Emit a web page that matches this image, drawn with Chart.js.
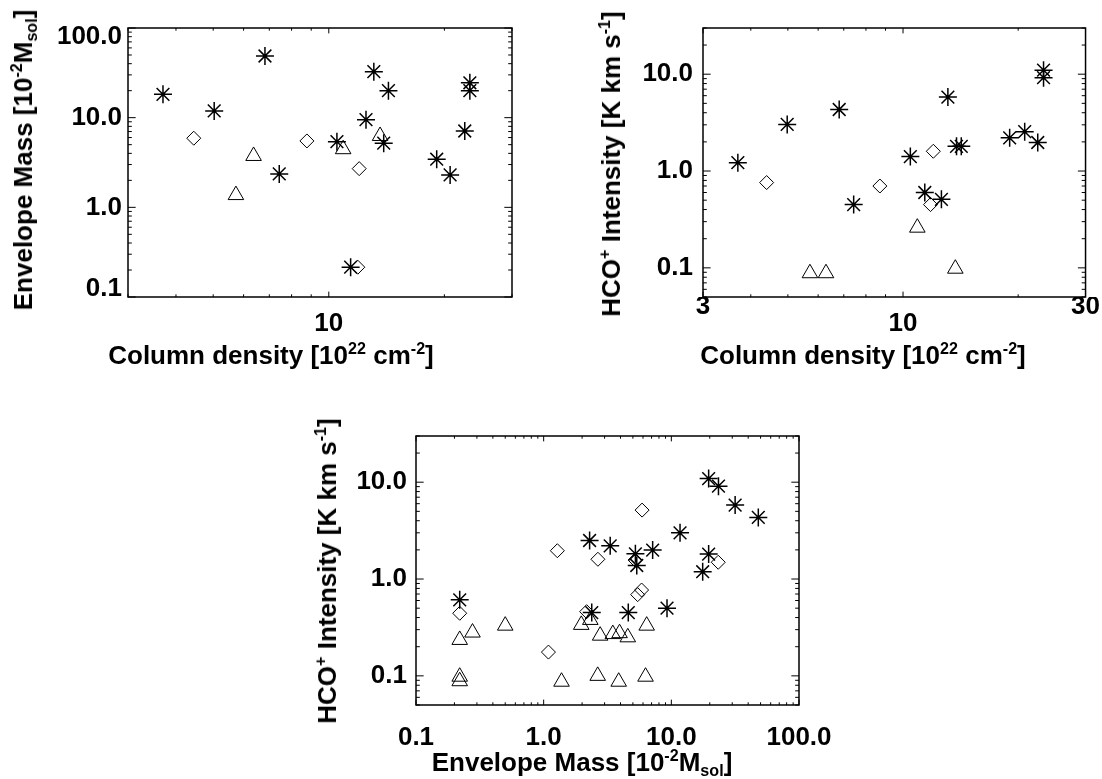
<!DOCTYPE html>
<html>
<head>
<meta charset="utf-8">
<script src="https://cdn.jsdelivr.net/npm/chart.js@4.4.0/dist/chart.umd.min.js"></script>
<style>
  body { margin: 0; background: #fff; }
  #wrap { position: relative; width: 1102px; height: 779px; overflow: hidden; }
  canvas { position: absolute; left: 0; top: 0; }
  .t { position: absolute; font: bold 26px "Liberation Sans", Arial, Helvetica, sans-serif; line-height: 26px;
       white-space: nowrap; color: #000; transform: translate(-50%, -50%); }
  .r { transform: translate(-50%, -50%) rotate(-90deg); }
  sup, sub { font-size: 0.62em; line-height: 0; position: relative; vertical-align: baseline; }
  sup { top: -0.62em; }
  sub { top: 0.32em; }
</style>
</head>
<body>
<div id="wrap">
  <canvas id="c1" width="1102" height="779"></canvas>
  <canvas id="c2" width="1102" height="779"></canvas>
  <canvas id="c3" width="1102" height="779"></canvas>

  <div class="t" style="left:271px;top:355px">Column density [10<sup>22</sup> cm<sup>-2</sup>]</div>
  <div class="t r" style="left:23px;top:160px">Envelope Mass [10<sup>-2</sup>M<sub>sol</sub>]</div>

  <div class="t" style="left:863px;top:355px">Column density [10<sup>22</sup> cm<sup>-2</sup>]</div>
  <div class="t r" style="left:611px;top:164px">HCO<sup>+</sup> Intensity [K km s<sup>-1</sup>]</div>

  <div class="t" style="left:582px;top:762px">Envelope Mass [10<sup>-2</sup>M<sub>sol</sub>]</div>
  <div class="t r" style="left:327px;top:571px">HCO<sup>+</sup> Intensity [K km s<sup>-1</sup>]</div>
</div>

<script>
// panel 1: column density vs envelope mass
const p1StarX = [3.70, 5.03, 6.82, 7.43, 10.5, 11.4, 12.5, 13.1, 13.9, 14.3, 19.1, 20.7, 22.6, 23.3, 23.3];
const p1StarY = [18.2, 11.9, 48.7, 2.36, 5.4, 0.215, 9.5, 32.6, 5.2, 20.0, 3.44, 2.3, 7.1, 24.5, 20.0];
const p1DiaX = [4.45, 8.77, 12.0, 11.9];
const p1DiaY = [5.9, 5.5, 2.7, 0.215];
const p1TriX = [5.73, 6.37, 10.9, 13.6];
const p1TriY = [1.37, 3.74, 4.45, 6.25];

// panel 2: column density vs HCO+ intensity
const p2StarX = [3.70, 4.98, 6.81, 7.43, 10.45, 11.4, 12.6, 13.1, 13.8, 14.2, 19.0, 20.8, 22.5, 23.3, 23.3];
const p2StarY = [1.22, 3.03, 4.32, 0.45, 1.41, 0.60, 0.51, 5.8, 1.8, 1.8, 2.2, 2.55, 1.97, 11.0, 9.2];
const p2DiaX = [4.40, 8.70, 11.8, 12.0];
const p2DiaY = [0.76, 0.70, 0.45, 1.6];
const p2TriX = [5.71, 6.29, 10.9, 13.7];
const p2TriY = [0.088, 0.088, 0.26, 0.098];

// panel 3: envelope mass vs HCO+ intensity
const p3StarX = [0.22, 2.29, 2.38, 3.32, 4.60, 5.23, 5.36, 7.14, 9.25, 11.7, 17.6, 19.6, 19.6, 23.4, 31.6, 48.0];
const p3StarY = [0.61, 2.50, 0.45, 2.2, 0.45, 1.82, 1.38, 1.99, 0.50, 3.0, 1.19, 1.81, 10.9, 9.1, 5.8, 4.33];
const p3DiaX = [0.22, 1.09, 1.28, 2.17, 2.66, 5.2, 5.45, 5.85, 5.9, 23.3];
const p3DiaY = [0.443, 0.176, 1.96, 0.46, 1.6, 1.57, 0.69, 0.77, 5.15, 1.49];
const p3TriX = [0.22, 0.22, 0.22, 0.277, 0.50, 1.38, 1.97, 2.32, 2.65, 2.77, 3.48, 3.87, 3.93, 4.56, 6.28, 6.41];
const p3TriY = [0.235, 0.098, 0.088, 0.28, 0.33, 0.087, 0.336, 0.378, 0.1, 0.26, 0.27, 0.087, 0.276, 0.25, 0.098, 0.33];

// tick labels (arrays push end labels inward like the original)
const p1XTickVals = [10];
const p1XTickLabels = ['10'];
const p1YTickVals = [0.1, 1, 10, 100];
const p1YTickLabels = [['0.1', ''], '1.0', '10.0', ['', '100.0']];
const p2XTickVals = [3, 10, 30];
const p2XTickLabels = ['3', ['', '10'], '30'];
const p2YTickVals = [0.1, 1, 10];
const p2YTickLabels = ['0.1', '1.0', '10.0'];
const p3XTickVals = [0.1, 1, 10, 100];
const p3XTickLabels = ['0.1', '1.0', '10.0', '100.0'];
const p3YTickVals = [0.1, 1, 10];
const p3YTickLabels = ['0.1', '1.0', '10.0'];

const FONT = "'Liberation Sans', Arial, Helvetica, sans-serif";
const W = 1102, H = 779;
const Y_AXIS_W = 110, X_AXIS_H = 70;

function minorTicks(min, max) {
    const out = [];
    for (let e = Math.floor(Math.log10(min)); e <= Math.ceil(Math.log10(max)); e++) {
        for (let m = 1; m <= 9; m++) {
            const v = m * Math.pow(10, e);
            if (v >= min * 0.9999 && v <= max * 1.0001) out.push(v);
        }
    }
    return out;
}

function isIn(v, list) {
    return list.some(t => Math.abs(t - v) / t < 1e-6);
}

// IDL style frame with inward ticks on all four sides
const boxTicks = {
    id: 'boxTicks',
    afterDraw(chart, args, opts) {
        const { ctx, chartArea: a, scales } = chart;
        const x = scales.x, y = scales.y;
        const h = a.bottom - a.top, w = a.right - a.left;
        ctx.save();
        ctx.strokeStyle = '#000';
        ctx.lineWidth = 1;
        ctx.beginPath();
        minorTicks(x.min, x.max).forEach(v => {
            const px = x.getPixelForValue(v);
            const len = (isIn(v, opts.xMajor) ? 0.02 : 0.01) * h;
            ctx.moveTo(px, a.bottom); ctx.lineTo(px, a.bottom - len);
            ctx.moveTo(px, a.top); ctx.lineTo(px, a.top + len);
        });
        minorTicks(y.min, y.max).forEach(v => {
            const py = y.getPixelForValue(v);
            const len = (isIn(v, opts.yMajor) ? 0.02 : 0.01) * w;
            ctx.moveTo(a.left, py); ctx.lineTo(a.left + len, py);
            ctx.moveTo(a.right, py); ctx.lineTo(a.right - len, py);
        });
        ctx.stroke();
        ctx.lineWidth = 1.5;
        ctx.strokeRect(a.left, a.top, w, h);
        ctx.restore();
    }
};

function series(xs, ys, style, r, bw) {
    return {
        data: xs.map((v, i) => ({ x: v, y: ys[i] })),
        showLine: false,
        pointStyle: style,
        pointRadius: r,
        pointHoverRadius: r,
        pointBorderColor: '#000',
        pointBackgroundColor: 'rgba(0,0,0,0)',
        pointBorderWidth: bw,
        pointHoverBorderWidth: bw
    };
}

function makePanel(id, area, p) {
    const ctx = document.getElementById(id).getContext('2d');
    new Chart(ctx, {
        type: 'scatter',
        data: {
            datasets: [
                series(p.triX, p.triY, 'triangle', 9, 1),
                series(p.diaX, p.diaY, 'rectRot', 7, 1),
                series(p.starX, p.starY, 'star', 9, 1.5)
            ]
        },
        options: {
            responsive: false,
            animation: false,
            devicePixelRatio: 1,
            layout: {
                padding: {
                    left: area.l - Y_AXIS_W,
                    top: area.t,
                    right: W - area.r,
                    bottom: H - area.b - X_AXIS_H
                }
            },
            plugins: {
                legend: { display: false },
                tooltip: { enabled: false },
                boxTicks: { xMajor: p.xVals, yMajor: p.yVals }
            },
            scales: {
                x: {
                    type: 'logarithmic',
                    min: p.xMin,
                    max: p.xMax,
                    grid: { display: false, drawTicks: false, tickLength: 0 },
                    border: { display: false },
                    afterFit: s => { s.height = X_AXIS_H; },
                    afterBuildTicks: s => { s.ticks = p.xVals.map(v => ({ value: v })); },
                    ticks: {
                        autoSkip: false,
                        maxRotation: 0,
                        padding: p.xPad,
                        color: '#000',
                        font: { family: FONT, size: 26, weight: 'bold', lineHeight: p.xLineH },
                        callback: (v, i) => p.xLabels[i]
                    }
                },
                y: {
                    type: 'logarithmic',
                    min: p.yMin,
                    max: p.yMax,
                    grid: { display: false, drawTicks: false, tickLength: 0 },
                    border: { display: false },
                    afterFit: s => { s.width = Y_AXIS_W; },
                    afterBuildTicks: s => { s.ticks = p.yVals.map(v => ({ value: v })); },
                    ticks: {
                        autoSkip: false,
                        padding: p.yPad,
                        color: '#000',
                        font: { family: FONT, size: 26, weight: 'bold', lineHeight: 0.65 },
                        callback: (v, i) => p.yLabels[i]
                    }
                }
            }
        },
        plugins: [boxTicks]
    });
}

makePanel('c1', { l: 128, t: 28, r: 512, b: 297 }, {
    starX: p1StarX, starY: p1StarY, diaX: p1DiaX, diaY: p1DiaY, triX: p1TriX, triY: p1TriY,
    xMin: 3, xMax: 30, yMin: 0.1, yMax: 100,
    xVals: p1XTickVals, xLabels: p1XTickLabels, yVals: p1YTickVals, yLabels: p1YTickLabels,
    xPad: 16, xLineH: 0.8, yPad: 6
});

makePanel('c2', { l: 703, t: 28, r: 1086, b: 297 }, {
    starX: p2StarX, starY: p2StarY, diaX: p2DiaX, diaY: p2DiaY, triX: p2TriX, triY: p2TriY,
    xMin: 3, xMax: 30, yMin: 0.05, yMax: 30,
    xVals: p2XTickVals, xLabels: p2XTickLabels, yVals: p2YTickVals, yLabels: p2YTickLabels,
    xPad: 2, xLineH: 0.635, yPad: 10
});

makePanel('c3', { l: 416, t: 436, r: 799, b: 705 }, {
    starX: p3StarX, starY: p3StarY, diaX: p3DiaX, diaY: p3DiaY, triX: p3TriX, triY: p3TriY,
    xMin: 0.1, xMax: 100, yMin: 0.05, yMax: 30,
    xVals: p3XTickVals, xLabels: p3XTickLabels, yVals: p3YTickVals, yLabels: p3YTickLabels,
    xPad: 22, xLineH: 0.8, yPad: 9
});
</script>
</body>
</html>
